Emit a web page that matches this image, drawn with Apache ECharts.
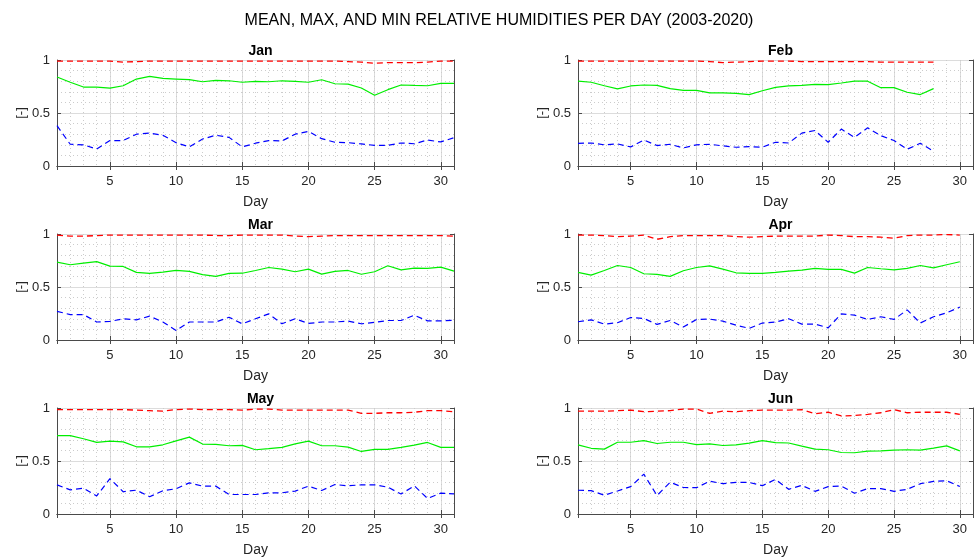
<!DOCTYPE html>
<html>
<head>
<meta charset="utf-8">
<script src="https://cdn.jsdelivr.net/npm/echarts@6/dist/echarts.min.js"></script>
<style>
html, body { margin: 0; padding: 0; background: #fff; }
#main { width: 974px; height: 560px; }
</style>
</head>
<body>
<div id="main"></div>
<script>
var months = ['Jan', 'Feb', 'Mar', 'Apr', 'May', 'Jun'];

var janMax = [0.99,0.99,0.99,0.99,0.99,0.98,0.985,0.99,0.99,0.99,0.99,0.99,0.99,0.99,0.99,0.99,0.99,0.99,0.99,0.99,0.99,0.99,0.985,0.98,0.97,0.975,0.975,0.975,0.98,0.99,0.99];
var janMean = [0.84,0.79,0.745,0.745,0.735,0.757,0.82,0.845,0.826,0.82,0.814,0.795,0.807,0.804,0.79,0.798,0.795,0.804,0.798,0.79,0.814,0.776,0.773,0.736,0.668,0.72,0.764,0.76,0.757,0.78,0.78];
var janMin = [0.38,0.205,0.2,0.16,0.24,0.24,0.3,0.31,0.29,0.22,0.18,0.255,0.29,0.27,0.18,0.215,0.24,0.236,0.3,0.326,0.258,0.224,0.22,0.208,0.195,0.195,0.217,0.21,0.245,0.227,0.267];

var febMax = [0.99,0.99,0.99,0.99,0.99,0.99,0.99,0.99,0.99,0.99,0.985,0.975,0.98,0.985,0.99,0.99,0.99,0.985,0.985,0.985,0.985,0.985,0.985,0.98,0.98,0.98,0.98,0.98];
var febMean = [0.8,0.79,0.757,0.727,0.755,0.764,0.76,0.73,0.714,0.714,0.69,0.69,0.686,0.674,0.71,0.742,0.755,0.76,0.77,0.767,0.783,0.8,0.8,0.739,0.739,0.696,0.674,0.73];
var febMin = [0.214,0.217,0.2,0.208,0.18,0.245,0.193,0.205,0.17,0.2,0.205,0.19,0.177,0.183,0.177,0.224,0.217,0.31,0.335,0.224,0.348,0.27,0.36,0.286,0.24,0.158,0.214,0.14];

var marMax = [0.99,0.98,0.98,0.985,0.99,0.99,0.99,0.99,0.99,0.99,0.99,0.99,0.985,0.985,0.99,0.99,0.99,0.99,0.98,0.975,0.98,0.985,0.985,0.985,0.985,0.985,0.985,0.985,0.985,0.985,0.98];
var marMean = [0.734,0.71,0.725,0.74,0.697,0.694,0.638,0.628,0.64,0.656,0.647,0.616,0.6,0.628,0.63,0.656,0.684,0.669,0.644,0.669,0.622,0.647,0.656,0.62,0.644,0.7,0.662,0.678,0.675,0.688,0.65];
var marMin = [0.27,0.24,0.24,0.17,0.175,0.2,0.19,0.225,0.17,0.09,0.17,0.17,0.17,0.215,0.153,0.2,0.247,0.153,0.2,0.156,0.17,0.17,0.178,0.153,0.166,0.184,0.184,0.234,0.18,0.18,0.187];

var aprMax = [0.99,0.99,0.985,0.975,0.98,0.99,0.95,0.975,0.985,0.985,0.985,0.985,0.975,0.97,0.975,0.98,0.98,0.98,0.98,0.99,0.985,0.975,0.975,0.97,0.96,0.985,0.99,0.99,0.995,0.99];
var aprMean = [0.638,0.612,0.656,0.703,0.684,0.625,0.619,0.6,0.653,0.684,0.7,0.669,0.634,0.628,0.628,0.638,0.65,0.66,0.675,0.666,0.666,0.631,0.684,0.672,0.662,0.675,0.703,0.681,0.71,0.738];
var aprMin = [0.172,0.19,0.15,0.163,0.212,0.203,0.147,0.184,0.122,0.194,0.197,0.178,0.14,0.11,0.16,0.169,0.2,0.15,0.15,0.115,0.247,0.234,0.194,0.219,0.194,0.284,0.16,0.219,0.256,0.31];

var mayMax = [0.985,0.985,0.985,0.985,0.985,0.985,0.98,0.975,0.97,0.985,0.99,0.985,0.985,0.985,0.98,0.99,0.99,0.98,0.98,0.98,0.98,0.98,0.98,0.95,0.95,0.955,0.955,0.96,0.975,0.975,0.965];
var mayMean = [0.74,0.74,0.71,0.675,0.688,0.681,0.634,0.634,0.653,0.69,0.725,0.66,0.656,0.644,0.647,0.606,0.616,0.628,0.662,0.688,0.644,0.644,0.631,0.59,0.61,0.61,0.628,0.65,0.675,0.628,0.628];
var mayMin = [0.275,0.228,0.244,0.17,0.334,0.21,0.225,0.163,0.219,0.238,0.294,0.263,0.263,0.184,0.184,0.184,0.2,0.2,0.216,0.263,0.222,0.278,0.266,0.275,0.275,0.253,0.188,0.266,0.147,0.197,0.19];

var junMax = [0.97,0.97,0.97,0.975,0.98,0.965,0.97,0.975,0.99,0.99,0.95,0.97,0.965,0.975,0.98,0.98,0.98,0.985,0.945,0.96,0.925,0.93,0.94,0.955,0.985,0.955,0.96,0.96,0.96,0.94];
var junMean = [0.652,0.62,0.612,0.677,0.677,0.692,0.665,0.677,0.677,0.655,0.661,0.646,0.652,0.668,0.692,0.674,0.67,0.64,0.612,0.606,0.58,0.578,0.593,0.596,0.602,0.606,0.602,0.621,0.643,0.596];
var junMin = [0.224,0.22,0.177,0.217,0.258,0.376,0.174,0.3,0.25,0.248,0.31,0.286,0.298,0.298,0.267,0.326,0.233,0.27,0.214,0.258,0.264,0.196,0.24,0.24,0.214,0.233,0.286,0.307,0.314,0.26];

var maxSets = [janMax, febMax, marMax, aprMax, mayMax, junMax];
var meanSets = [janMean, febMean, marMean, aprMean, mayMean, junMean];
var minSets = [janMin, febMin, marMin, aprMin, mayMin, junMin];

var FONT = '"Liberation Sans", Arial, sans-serif';
var INK = '#262626';
var FRAME = '#4a4a4a';

// pixel boxes of the six panels (two columns, three rows)
var colLeft = [57, 578];
var colWidth = [397, 395];
var rowTop = [60, 234, 408];
var plotHeight = 106;

function toPoints(arr) {
	return arr.map(function(v, i) { return [i + 1, v]; });
}

function buildOption() {
	var grids = [], xAxes = [], yAxes = [], series = [];
	var titles = [{
		text: 'MEAN, MAX, AND MIN RELATIVE HUMIDITIES PER DAY (2003-2020)',
		left: 494, top: 8, textAlign: 'center',
		textStyle: { fontFamily: FONT, fontSize: 16, fontWeight: 'normal', color: '#000' }
	}];

	for (var i = 0; i < 6; i++) {
		var col = i % 2, row = Math.floor(i / 2);
		grids.push({
			left: colLeft[col], top: rowTop[row], width: colWidth[col], height: plotHeight,
			containLabel: false, outerBoundsMode: 'none'
		});
		titles.push({
			text: months[i],
			left: colLeft[col] + colWidth[col] / 2, top: rowTop[row] - 21, textAlign: 'center',
			textStyle: { fontFamily: FONT, fontSize: 14, fontWeight: 'bold', color: '#000' }
		});

		// bottom axis: labels, ticks and major grid
		xAxes.push({
			gridIndex: i, type: 'value', position: 'bottom', min: 1, max: 31, splitNumber: 6,
			name: 'Day', nameLocation: 'middle', nameGap: 29,
			nameTextStyle: { fontFamily: FONT, fontSize: 14, color: INK },
			axisLine: { show: true, lineStyle: { color: FRAME, width: 1 } },
			axisTick: { show: true, inside: true, length: 4, lineStyle: { color: FRAME } },
			axisLabel: { show: true, showMinLabel: false, showMaxLabel: false, margin: 9,
				fontFamily: FONT, fontSize: 13, color: INK },
			splitLine: { show: true, lineStyle: { color: '#dcdcdc', width: 1 } }
		});
		// top axis: box edge with inner ticks
		xAxes.push({
			gridIndex: i, type: 'value', position: 'top', min: 1, max: 31, splitNumber: 6,
			axisLine: { show: true, lineStyle: { color: FRAME, width: 1 } },
			axisTick: { show: true, inside: true, length: 4, lineStyle: { color: FRAME } },
			axisLabel: { show: false },
			splitLine: { show: false }
		});
		// minor grid, one dotted line per day
		xAxes.push({
			gridIndex: i, type: 'value', position: 'bottom', min: 1, max: 31, interval: 1,
			axisLine: { show: false }, axisTick: { show: false }, axisLabel: { show: false },
			splitLine: { show: true, lineStyle: { color: '#cccccc', width: 1, type: [1, 3] } }
		});

		yAxes.push({
			gridIndex: i, type: 'value', position: 'left', min: 0, max: 1, interval: 0.5,
			name: '[-]', nameLocation: 'middle', nameGap: 29,
			nameTextStyle: { fontFamily: FONT, fontSize: 13, color: INK },
			axisLine: { show: true, lineStyle: { color: FRAME, width: 1 } },
			axisTick: { show: true, inside: true, length: 4, lineStyle: { color: FRAME } },
			axisLabel: { show: true, margin: 7, fontFamily: FONT, fontSize: 13, color: INK },
			splitLine: { show: true, lineStyle: { color: '#dcdcdc', width: 1 } },
			minorTick: { show: false, splitNumber: 5 },
			minorSplitLine: { show: true, lineStyle: { color: '#cccccc', width: 1, type: [1, 3] } }
		});
		yAxes.push({
			gridIndex: i, type: 'value', position: 'right', min: 0, max: 1, interval: 0.5,
			axisLine: { show: true, lineStyle: { color: FRAME, width: 1 } },
			axisTick: { show: true, inside: true, length: 4, lineStyle: { color: FRAME } },
			axisLabel: { show: false },
			splitLine: { show: false }
		});

		series.push({
			name: 'max', type: 'line', xAxisIndex: i * 3, yAxisIndex: i * 2,
			data: toPoints(maxSets[i]), symbol: 'none', animation: false,
			lineStyle: { color: '#ff0000', width: 1.3, type: [6, 4] }
		});
		series.push({
			name: 'mean', type: 'line', xAxisIndex: i * 3, yAxisIndex: i * 2,
			data: toPoints(meanSets[i]), symbol: 'none', animation: false,
			lineStyle: { color: '#00ee00', width: 1.2 }
		});
		series.push({
			name: 'min', type: 'line', xAxisIndex: i * 3, yAxisIndex: i * 2,
			data: toPoints(minSets[i]), symbol: 'none', animation: false,
			lineStyle: { color: '#0000ff', width: 1.2, type: [6, 4] }
		});
	}

	return {
		backgroundColor: '#ffffff',
		animation: false,
		title: titles,
		grid: grids,
		xAxis: xAxes,
		yAxis: yAxes,
		series: series
	};
}

window.onload = function() {
	var chart = echarts.init(document.getElementById('main'), null, { renderer: 'canvas' });
	chart.setOption(buildOption());
};
</script>
</body>
</html>
